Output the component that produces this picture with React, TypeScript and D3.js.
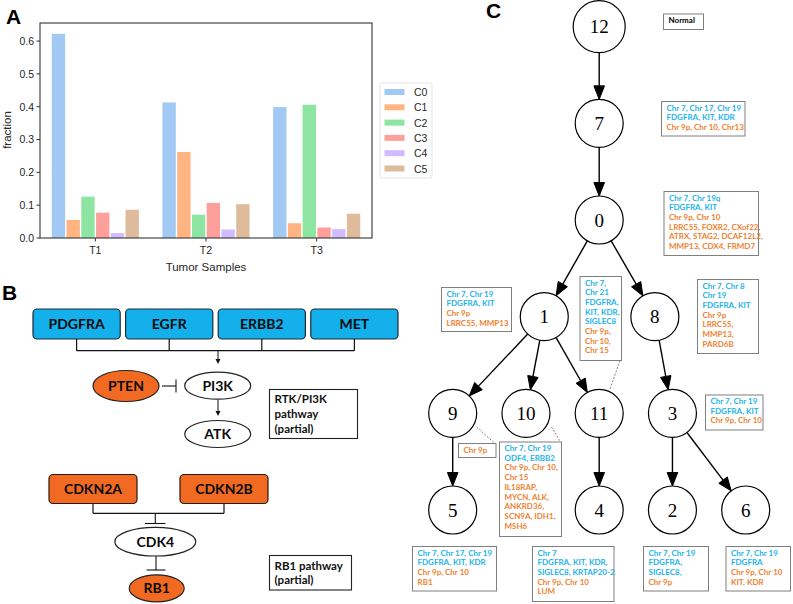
import React from "react";
import * as d3 from "d3";

// ---------- Panel A data ----------
const samples = ["T1", "T2", "T3"];
const clusters = ["C0", "C1", "C2", "C3", "C4", "C5"];
const fracT1 = [0.622, 0.055, 0.126, 0.077, 0.015, 0.086];
const fracT2 = [0.413, 0.262, 0.071, 0.107, 0.026, 0.103];
const fracT3 = [0.399, 0.045, 0.406, 0.032, 0.027, 0.074];
const yTickValues = [0, 0.1, 0.2, 0.3, 0.4, 0.5, 0.6];
const clusterColors = ["#a1c9f4", "#ffb482", "#8de5a1", "#ff9f9b", "#d0bbff", "#debb9b"];

// ---------- Panel B data ----------
const rtkGenes = ["PDGFRA", "EGFR", "ERBB2", "MET"];
const cdkGenes = ["CDKN2A", "CDKN2B"];

// ---------- Panel C data ----------
const treeNodes = ["12", "7", "0", "1", "8", "9", "10", "11", "3", "5", "4", "2", "6"];
const treeEdges: [string, string][] = [
  ["12", "7"], ["7", "0"], ["0", "1"], ["0", "8"], ["1", "9"], ["1", "10"], ["1", "11"],
  ["8", "3"], ["9", "5"], ["11", "4"], ["3", "2"], ["3", "6"],
];
type Ln = [string, "b" | "o" | "k"];
const noteNormal: Ln[] = [["Normal", "k"]];
const note7: Ln[] = [["Chr 7, Chr 17, Chr 19", "b"], ["FDGFRA, KIT, KDR", "b"], ["Chr 9p, Chr 10, Chr13", "o"]];
const note0: Ln[] = [["Chr 7, Chr 19q", "b"], ["FDGFRA, KIT", "b"], ["Chr 9p, Chr 10", "o"], ["LRRC55, FOXR2, CXof22,", "o"], ["ATRX, STAG2, DCAF12L2,", "o"], ["MMP13, CDX4, FRMD7", "o"]];
const note1: Ln[] = [["Chr 7, Chr 19", "b"], ["FDGFRA, KIT", "b"], ["Chr 9p", "o"], ["LRRC55, MMP13", "o"]];
const note11: Ln[] = [["Chr 7,", "b"], ["Chr 21", "b"], ["FDGFRA,", "b"], ["KIT, KDR,", "b"], ["SIGLEC8", "b"], ["Chr 9p,", "o"], ["Chr 10,", "o"], ["Chr 15", "o"]];
const note8: Ln[] = [["Chr 7, Chr 8", "b"], ["Chr 19", "b"], ["FDGFRA, KIT", "b"], ["Chr 9p", "o"], ["LRRC55,", "o"], ["MMP13,", "o"], ["PARD6B", "o"]];
const note3: Ln[] = [["Chr 7, Chr 19", "b"], ["FDGFRA, KIT", "b"], ["Chr 9p, Chr 10", "o"]];
const note9: Ln[] = [["Chr 9p", "o"]];
const note10: Ln[] = [["Chr 7, Chr 19", "b"], ["ODF4, ERBB2", "b"], ["Chr 9p, Chr 10,", "o"], ["Chr 15", "o"], ["IL18RAP,", "o"], ["MYCN, ALK,", "o"], ["ANKRD36,", "o"], ["SCN9A, IDH1,", "o"], ["MSH6", "o"]];
const note5: Ln[] = [["Chr 7, Chr 17, Chr 19", "b"], ["FDGFRA, KIT, KDR", "b"], ["Chr 9p, Chr 10", "o"], ["RB1", "o"]];
const note4: Ln[] = [["Chr 7", "b"], ["FDGFRA, KIT, KDR,", "b"], ["SIGLEC8, KRTAP20-2", "b"], ["Chr 9p, Chr 10", "o"], ["LUM", "o"]];
const note2: Ln[] = [["Chr 7, Chr 19", "b"], ["FDGFRA,", "b"], ["SIGLEC8,", "b"], ["Chr 9p", "o"]];
const note6: Ln[] = [["Chr 7, Chr 19", "b"], ["FDGFRA", "b"], ["Chr 9p, Chr 10", "o"], ["KIT, KDR", "o"]];

// ---------- layout (not data) ----------
const nodeLayout: Record<string, [number, number]> = {
  "12": [2, 0], "7": [2, 1], "0": [2, 2], "1": [1.25, 3], "8": [2.76, 3],
  "9": [0, 4], "10": [1, 4], "11": [2, 4], "3": [3, 4],
  "5": [0, 5], "4": [2, 5], "2": [3, 5], "6": [4, 5],
};
const notes: { lines: Ln[]; x: number; y: number; w: number; h: number }[] = [
  { lines: noteNormal, x: 663.5, y: 14, w: 40, h: 15.5 },
  { lines: note7, x: 661.5, y: 101.5, w: 83.5, h: 34.5 },
  { lines: note0, x: 664, y: 191.5, w: 94.5, h: 64 },
  { lines: note1, x: 441.5, y: 287.5, w: 70, h: 44 },
  { lines: note11, x: 580, y: 276.5, w: 41.5, h: 84 },
  { lines: note8, x: 697.5, y: 279.5, w: 61, h: 74 },
  { lines: note3, x: 705.5, y: 395, w: 57.5, h: 35 },
  { lines: note9, x: 458.5, y: 443.5, w: 37.5, h: 14 },
  { lines: note10, x: 499.5, y: 442, w: 62, h: 94.5 },
  { lines: note5, x: 412.5, y: 546.5, w: 84, h: 44.5 },
  { lines: note4, x: 532.5, y: 546.5, w: 81.5, h: 55 },
  { lines: note2, x: 643.5, y: 546.5, w: 65, h: 44.5 },
  { lines: note6, x: 726, y: 546.5, w: 64.5, h: 44.5 },
];
const dashLinks: [number, number, number, number][] = [
  [620, 360.5, 610, 389],
  [476.5, 427, 495, 443.5],
  [551.5, 427, 560.5, 442],
];

const BLUE = "#13b0ec";
const ORANGE = "#f26a21";
const TXT_BLUE = "#1db4ea";
const TXT_ORANGE = "#f07f2f";

function PanelA() {
  const left = 40, right = 372, top = 23, bottom = 238;
  const x = d3.scaleBand<string>().domain(samples).range([left, right]).paddingInner(0.2).paddingOuter(0.1);
  const xs = d3.scaleBand<string>().domain(clusters).range([0, x.bandwidth()]);
  const y = d3.scaleLinear().domain([0, 0.655]).range([bottom, top]);
  const series = [fracT1, fracT2, fracT3];
  const font = "'Liberation Sans', Arial, sans-serif";
  return (
    <g fontFamily={font}>
      <text x={6} y={24} fontSize={21} fontWeight="bold" fontFamily="'Liberation Sans', Arial">A</text>
      {samples.map((s, i) =>
        clusters.map((c, j) => (
          <rect key={s + c} x={(x(s) as number) + (xs(c) as number) + 0.7} width={xs.bandwidth() - 1.4}
            y={y(series[i][j])} height={bottom - y(series[i][j])} fill={clusterColors[j]} />
        ))
      )}
      <rect x={left} y={top} width={right - left} height={bottom - top} fill="none" stroke="#333" strokeWidth={1.1} />
      {yTickValues.map((t) => (
        <g key={t}>
          <line x1={left - 3.5} x2={left} y1={y(t)} y2={y(t)} stroke="#333" strokeWidth={1} />
          <text x={left - 6} y={y(t) + 3.8} fontSize={10.5} textAnchor="end" fill="#262626">{d3.format(".1f")(t)}</text>
        </g>
      ))}
      {samples.map((s) => {
        const cx = (x(s) as number) + x.bandwidth() / 2;
        return (
          <g key={s}>
            <line x1={cx} x2={cx} y1={bottom} y2={bottom + 3.5} stroke="#333" />
            <text x={cx} y={bottom + 16} fontSize={10.5} textAnchor="middle" fill="#262626">{s}</text>
          </g>
        );
      })}
      <text x={206} y={271} fontSize={11.5} textAnchor="middle" fill="#262626">Tumor Samples</text>
      <text transform="translate(11,130) rotate(-90)" fontSize={11.5} textAnchor="middle" fill="#262626">fraction</text>
      <rect x={380} y={83} width={52} height={95} fill="#fff" stroke="#ddd" strokeWidth={0.8} rx={2} />
      {clusters.map((c, j) => (
        <g key={c}>
          <rect x={384.5} y={89 + j * 15.3} width={20} height={6} fill={clusterColors[j]} />
          <text x={414} y={96 + j * 15.3} fontSize={10.5} fill="#262626">{c}</text>
        </g>
      ))}
    </g>
  );
}

function PanelB() {
  const font = "Lato, 'Open Sans', sans-serif";
  const gx = d3.scaleBand<string>().domain(rtkGenes).range([33, 398]).paddingInner(0.058);
  const cx = d3.scalePoint<string>().domain(cdkGenes).range([93, 224]);
  const boxH = 30;
  const midRtk = 218;
  return (
    <g fontFamily={font}>
      <text x={2} y={300} fontSize={21} fontWeight="bold" fontFamily="'Liberation Sans', Arial">B</text>
      {rtkGenes.map((g) => {
        const x0 = gx(g) as number;
        return (
          <g key={g}>
            <rect x={x0} y={309} width={gx.bandwidth()} height={boxH} rx={4} fill={BLUE} stroke="#1d2a33" strokeWidth={1.2} />
            <text x={x0 + gx.bandwidth() / 2} y={329} fontSize={14} fontWeight="bold" textAnchor="middle" fill="#0a0a0a">{g}</text>
            <line x1={x0 + gx.bandwidth() / 2} x2={x0 + gx.bandwidth() / 2} y1={339} y2={350.7} stroke="#111" strokeWidth={1.2} />
          </g>
        );
      })}
      <line x1={(gx("PDGFRA") as number) + gx.bandwidth() / 2} x2={(gx("MET") as number) + gx.bandwidth() / 2} y1={350.7} y2={350.7} stroke="#111" strokeWidth={1.2} />
      <line x1={midRtk} x2={midRtk} y1={350.7} y2={360} stroke="#111" strokeWidth={1} />
      <path d={`M${midRtk - 2.5},359 L${midRtk + 2.5},359 L${midRtk},364 Z`} fill="#111" />
      <ellipse cx={126} cy={386} rx={33} ry={15.5} fill={ORANGE} stroke="#222" strokeWidth={1.2} />
      <text x={126} y={391} fontSize={14} fontWeight="bold" textAnchor="middle" fill="#0a0a0a">PTEN</text>
      <line x1={162} x2={176} y1={386} y2={386} stroke="#111" strokeWidth={1.1} />
      <line x1={176} x2={176} y1={379.5} y2={392.5} stroke="#111" strokeWidth={1.1} />
      <ellipse cx={217.7} cy={385.7} rx={33} ry={13.5} fill="#fff" stroke="#222" strokeWidth={1.2} />
      <text x={217.7} y={390.8} fontSize={14} fontWeight="bold" textAnchor="middle" fill="#0a0a0a">PI3K</text>
      <line x1={218} x2={218} y1={400} y2={412} stroke="#111" strokeWidth={1} />
      <path d="M215.5,411 L220.5,411 L218,416 Z" fill="#111" />
      <ellipse cx={217.7} cy={434} rx={33} ry={13.5} fill="#fff" stroke="#222" strokeWidth={1.2} />
      <text x={217.7} y={439} fontSize={14} fontWeight="bold" textAnchor="middle" fill="#0a0a0a">ATK</text>
      <rect x={269.5} y={389.5} width={88} height={49} fill="#fff" stroke="#222" strokeWidth={1.1} />
      {["RTK/PI3K", "pathway", "(partial)"].map((t, i) => (
        <text key={t} x={274.5} y={402.5 + i * 15} fontSize={11.5} fontWeight="bold" fill="#111">{t}</text>
      ))}
      {cdkGenes.map((g) => {
        const c = cx(g) as number;
        return (
          <g key={g}>
            <rect x={c - 44} y={474.5} width={88} height={29} rx={4} fill={ORANGE} stroke="#2a1a10" strokeWidth={1.2} />
            <text x={c} y={494} fontSize={14} fontWeight="bold" textAnchor="middle" fill="#0a0a0a">{g}</text>
            <line x1={c} x2={c} y1={503.5} y2={513.3} stroke="#111" strokeWidth={1.2} />
          </g>
        );
      })}
      <line x1={cx("CDKN2A")} x2={cx("CDKN2B")} y1={513.3} y2={513.3} stroke="#111" strokeWidth={1.2} />
      <line x1={155.3} x2={155.3} y1={513.3} y2={523.5} stroke="#111" strokeWidth={1.1} />
      <line x1={145} x2={165.5} y1={523.5} y2={523.5} stroke="#111" strokeWidth={1.1} />
      <ellipse cx={155.3} cy={541.7} rx={40.5} ry={14.3} fill="#fff" stroke="#222" strokeWidth={1.2} />
      <text x={155.3} y={546.8} fontSize={14} fontWeight="bold" textAnchor="middle" fill="#0a0a0a">CDK4</text>
      <line x1={156} x2={156} y1={556} y2={570} stroke="#111" strokeWidth={1.1} />
      <line x1={146.5} x2={165.5} y1={570} y2={570} stroke="#111" strokeWidth={1.1} />
      <ellipse cx={156.7} cy={588.3} rx={27.5} ry={13.5} fill={ORANGE} stroke="#222" strokeWidth={1.2} />
      <text x={156.7} y={593.3} fontSize={14} fontWeight="bold" textAnchor="middle" fill="#0a0a0a">RB1</text>
      <rect x={269.5} y={555.5} width={82} height={34.5} fill="#fff" stroke="#222" strokeWidth={1.1} />
      {["RB1 pathway", "(partial)"].map((t, i) => (
        <text key={t} x={274.5} y={569.5 + i * 14.8} fontSize={11.5} fontWeight="bold" fill="#111">{t}</text>
      ))}
    </g>
  );
}

function PanelC() {
  const colX = d3.scaleLinear().domain([0, 4]).range([452.7, 745.7]);
  const depthY = d3.scaleLinear().domain([0, 5]).range([26.7, 510]);
  const pos = (id: string) => [colX(nodeLayout[id][0]), depthY(nodeLayout[id][1])];
  const rad = (id: string) => (id === "12" ? 26 : 24);
  const headL = 13.5, headW = 5.3;
  const txtFont = "Lato, 'Open Sans', sans-serif";
  return (
    <g>
      <text x={486} y={18} fontSize={21} fontWeight="bold" fontFamily="'Liberation Sans', Arial">C</text>
      {dashLinks.map((d, i) => (
        <line key={i} x1={d[0]} y1={d[1]} x2={d[2]} y2={d[3]} stroke="#666" strokeWidth={0.8} strokeDasharray="2,1.5" />
      ))}
      {treeEdges.map(([s, t]) => {
        const [sx, sy] = pos(s);
        const [tx, ty] = pos(t);
        const dx = tx - sx, dy = ty - sy;
        const L = Math.hypot(dx, dy);
        const ux = dx / L, uy = dy / L;
        const nx = -uy, ny = ux;
        const x1 = sx + ux * rad(s), y1 = sy + uy * rad(s);
        const ex = tx - ux * rad(t), ey = ty - uy * rad(t);
        const bx = ex - ux * headL, by = ey - uy * headL;
        return (
          <g key={s + "-" + t}>
            <line x1={x1} y1={y1} x2={bx} y2={by} stroke="#000" strokeWidth={1.4} />
            <path d={`M${ex},${ey} L${bx + nx * headW},${by + ny * headW} L${bx - nx * headW},${by - ny * headW} Z`} fill="#000" stroke="#000" strokeWidth={1} strokeLinejoin="miter" />
          </g>
        );
      })}
      {treeNodes.map((id) => {
        const [x, y] = pos(id);
        return (
          <g key={id}>
            <circle cx={x} cy={y} r={rad(id)} fill="#fff" stroke="#000" strokeWidth={1.2} />
            <text x={x} y={y + 6.5} fontSize={19} textAnchor="middle" fontFamily="'Liberation Serif', 'DejaVu Serif', serif" fill="#000">{id}</text>
          </g>
        );
      })}
      {notes.map((n, i) => (
        <g key={i} fontFamily={txtFont} fontWeight="bold">
          <rect x={n.x} y={n.y} width={n.w} height={n.h} fill="#fff" stroke="#7f7f7f" strokeWidth={1} />
          {n.lines.map(([t, c], j) => (
            <text key={j} x={n.x + 5} y={n.y + 9 + j * 9.7} fontSize={8} fill={c === "b" ? TXT_BLUE : c === "o" ? TXT_ORANGE : "#000"}>{t}</text>
          ))}
        </g>
      ))}
    </g>
  );
}

export default function App() {
  return (
    <div style={{ position: "absolute", left: 0, top: 0 }}>
      <svg width={793} height={604} viewBox="0 0 793 604" style={{ display: "block", background: "#fff" }}>
        <rect width={793} height={604} fill="#fff" />
        <PanelA />
        <PanelB />
        <PanelC />
      </svg>
    </div>
  );
}
